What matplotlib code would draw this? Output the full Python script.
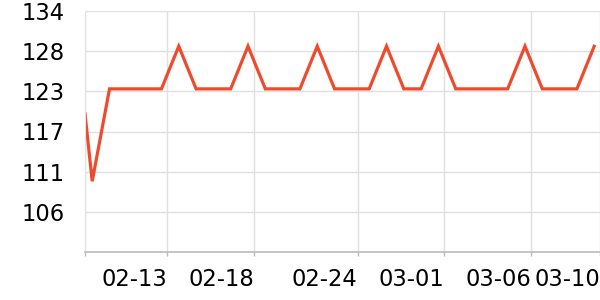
import numpy as np
import matplotlib
matplotlib.use("Agg")
import matplotlib.pyplot as plt
import matplotlib.dates as mdates
from matplotlib.ticker import FuncFormatter
from datetime import datetime, timedelta

# first reading comes in early, the rest are daily at 16:00
first_time = datetime(2023, 2, 8, 6, 0)
daily_start = datetime(2023, 2, 8, 16, 0)
n_daily = 30
times = [first_time] + [daily_start + timedelta(days=i) for i in range(n_daily)]

values = [119.5, 110,
          123, 123, 123, 123, 129,
          123, 123, 123, 129,
          123, 123, 123, 129,
          123, 123, 123, 129,
          123, 123, 129,
          123, 123, 123, 123, 129,
          123, 123, 123, 129]

tick_dates = [datetime(2023, 2, 13), datetime(2023, 2, 18), datetime(2023, 2, 24),
              datetime(2023, 3, 1), datetime(2023, 3, 6), datetime(2023, 3, 10)]
tick_labels = ["02-13", "02-18", "02-24", "03-01", "03-06", "03-10"]

y_min, y_max, y_splits = 100, 134, 6

line_color = "#EE4B2E"
grid_color = "#E0E0E0"
axis_color = "#BBBBBB"

fig = plt.figure(figsize=(6, 3), dpi=100)
ax = fig.add_axes([85 / 600, 1 - 252.3 / 300, 1 - 85 / 600, (252.3 - 10.7) / 300])

ax.plot(times, values, color=line_color, linewidth=2.3, solid_joinstyle="miter")

ax.set_xlim(times[0], tick_dates[-1])
ax.set_ylim(y_min, y_max)

yt = np.linspace(y_min, y_max, y_splits + 1)
ax.set_yticks(yt[1:])
ax.yaxis.set_major_formatter(FuncFormatter(lambda v, p: f"{v:.0f}"))

ax.set_xticks([mdates.date2num(times[0])] + [mdates.date2num(d) for d in tick_dates])
ax.set_xticklabels([""] + tick_labels)
for lab in ax.get_xticklabels():
    lab.set_horizontalalignment("right")

ax.grid(True, color=grid_color, linewidth=1)
ax.set_axisbelow(True)

for s in ["top", "right"]:
    ax.spines[s].set_visible(False)
ax.spines["left"].set_color(grid_color)
ax.spines["bottom"].set_color(axis_color)
ax.spines["bottom"].set_linewidth(1.2)

ax.tick_params(axis="y", length=0, pad=14.5, labelsize=16.3, labelcolor="black")
ax.tick_params(axis="x", length=3, width=1, color=axis_color, pad=8, labelsize=16.3, labelcolor="black")

fig.savefig("out.png", dpi=100)
